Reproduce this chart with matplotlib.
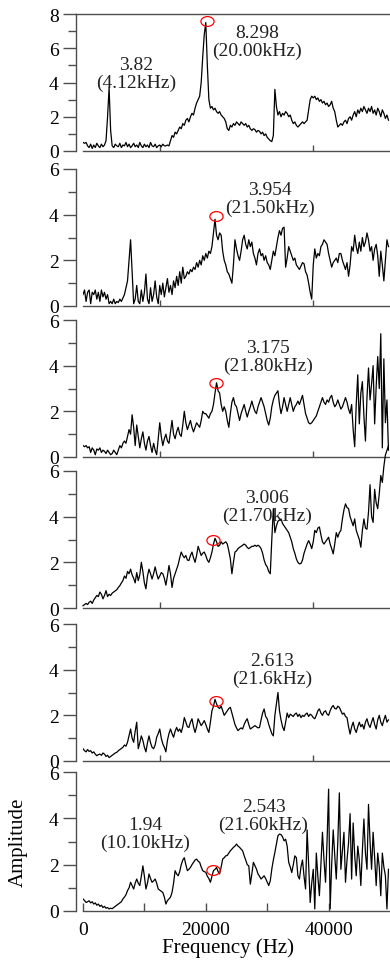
import numpy as np
import matplotlib
matplotlib.use('Agg')
import matplotlib.pyplot as plt
from matplotlib.path import Path
from matplotlib.transforms import Affine2D

plt.rcParams['font.family'] = ['Liberation Serif', 'DejaVu Serif']

# frequency bins (Hz), 250 Hz spacing
freq = np.arange(200) * 250.0

amp1 = [0.5, 0.45, 0.5, 0.3, 0.2, 0.4, 0.15, 0.35, 0.2, 0.45, 0.3, 0.2, 0.4, 0.25, 0.35, 0.6, 2.0, 3.7, 1.2, 0.3,
        0.2, 0.4, 0.3, 0.25, 0.45, 0.2, 0.35, 0.3, 0.5, 0.25, 0.4, 0.2, 0.3, 0.45, 0.25, 0.35, 0.2, 0.5, 0.3, 0.2,
        0.4, 0.25, 0.35, 0.2, 0.5, 0.3, 0.25, 0.4, 0.2, 0.3, 0.35, 0.25, 0.4, 0.3, 0.3, 0.35, 0.3, 0.6, 0.9, 0.8,
        1.1, 1.0, 1.2, 1.4, 1.3, 1.6, 1.5, 1.8, 1.9, 1.7, 2.0, 2.2, 2.1, 2.5, 2.8, 3.0, 3.2, 4.0, 5.5, 6.8,
        7.5, 5.0, 3.0, 2.5, 2.6, 2.4, 2.5, 2.3, 2.2, 2.3, 2.1, 2.0, 1.9, 1.7, 1.3, 1.2, 1.5, 1.4, 1.6, 1.5,
        1.7, 1.6, 1.5, 1.7, 1.6, 1.5, 1.6, 1.4, 1.5, 1.3, 1.2, 1.3, 1.25, 1.1, 1.2, 1.15, 1.0, 1.1, 0.9, 1.0,
        0.8, 0.7, 0.6, 0.55, 0.9, 3.6, 2.6, 2.1, 2.3, 2.0, 2.2, 2.1, 2.3, 2.2, 2.0, 2.1, 1.8, 1.6, 1.7, 1.5,
        1.4, 1.5, 1.6, 1.7, 1.6, 1.7, 1.8, 2.4, 3.0, 3.2, 3.1, 3.2, 3.0, 3.1, 2.9, 3.0, 2.8, 2.9, 2.7, 2.8,
        2.6, 2.7, 2.9, 2.5, 2.3, 1.8, 1.4, 1.5, 1.6, 1.5, 1.7, 1.8, 1.6, 1.9, 2.0, 1.8, 2.1, 2.3, 2.0, 2.4,
        2.2, 2.5, 2.3, 2.6, 2.4, 2.2, 2.5, 2.3, 2.6, 2.2, 2.4, 2.1, 2.5, 2.3, 2.0, 2.4, 2.2, 1.9, 2.1, 1.8]

amp2 = [0.5, 0.7, 0.2, 0.6, 0.7, 0.1, 0.6, 0.5, 0.7, 0.3, 0.6, 0.2, 0.7, 0.4, 0.6, 0.3, 0.5, 0.1, 0.2, 0.1,
        0.3, 0.1, 0.2, 0.15, 0.3, 0.2, 0.35, 0.5, 0.8, 1.1, 2.0, 2.9, 1.5, 0.1, 0.3, 0.9, 0.2, 0.1, 0.7, 0.2,
        0.6, 1.4, 0.3, 0.1, 0.8, 0.2, 0.5, 1.1, 0.4, 0.1, 0.9, 0.5, 1.0, 0.4, 0.8, 1.2, 0.6, 0.9, 0.5, 1.1,
        0.8, 1.3, 0.9, 1.5, 1.0, 1.7, 1.2, 1.3, 1.5, 1.4, 1.6, 1.5, 1.7, 1.6, 1.9, 1.7, 2.0, 1.8, 2.2, 2.0,
        2.3, 2.1, 2.4, 2.3, 2.6, 3.2, 3.8, 3.1, 2.9, 3.2, 3.1, 2.4, 2.0, 1.8, 1.5, 1.4, 1.2, 1.0, 1.8, 2.9,
        2.5, 2.2, 2.0, 2.4, 2.9, 3.1, 2.7, 2.5, 2.9, 2.6, 2.8, 2.3, 2.1, 1.8, 2.3, 2.5, 2.2, 2.3, 2.0, 2.2,
        1.9, 1.8, 1.6, 2.0, 2.4, 2.2, 2.6, 3.0, 3.3, 3.1, 3.4, 3.45, 1.7, 2.1, 2.6, 2.4, 2.2, 2.0, 2.1, 1.8,
        1.7, 1.6, 1.75, 1.9, 1.85, 1.5, 1.35, 1.0, 0.6, 0.3, 1.8, 2.5, 2.1, 2.3, 2.2, 2.6, 2.7, 2.9, 2.8, 2.7,
        2.3, 2.0, 1.7, 1.9, 2.0, 2.1, 1.9, 2.3, 2.3, 2.0, 1.8, 1.6, 1.9, 1.3, 1.8, 2.6, 2.4, 3.1, 2.6, 2.3,
        2.8, 2.4, 3.0, 2.6, 2.8, 3.2, 2.9, 2.4, 2.6, 2.0, 2.5, 2.7, 2.2, 1.3, 2.4, 1.8, 1.1, 2.0, 2.9, 2.6]

amp3 = [0.5, 0.45, 0.5, 0.4, 0.45, 0.2, 0.4, 0.3, 0.1, 0.35, 0.3, 0.4, 0.2, 0.3, 0.25, 0.15, 0.3, 0.2, 0.1, 0.15,
        0.3, 0.2, 0.1, 0.3, 0.5, 0.4, 0.6, 0.7, 0.6, 0.9, 1.2, 1.0, 1.85, 1.3, 0.5, 1.4, 0.9, 0.4, 0.8, 1.1,
        0.6, 0.3, 0.7, 0.9, 0.5, 0.2, 0.6, 0.3, 0.1, 0.8, 1.5, 0.9, 0.5, 0.8, 1.0, 0.7, 0.6, 1.1, 1.6, 1.0,
        0.8, 1.1, 1.3, 1.0, 0.9, 1.4, 2.0, 1.5, 1.2, 1.4, 1.6, 1.3, 1.1, 1.3, 1.5, 1.4, 1.3, 1.6, 2.0, 1.9,
        1.9, 1.8, 1.7, 1.9, 2.0, 2.3, 2.8, 3.25, 2.9, 2.8, 2.3, 2.0, 2.2, 2.0, 1.6, 1.3, 1.9, 2.4, 2.6, 2.3,
        2.2, 1.9, 1.6, 1.9, 2.1, 2.3, 2.0, 1.75, 2.0, 2.2, 2.45, 2.2, 2.0, 1.9, 2.2, 2.4, 2.6, 2.4, 2.2, 1.9,
        1.6, 1.4, 1.7, 2.2, 2.5, 2.7, 2.8, 2.9, 2.3, 1.9, 2.2, 2.6, 2.3, 2.0, 2.3, 2.6, 2.3, 2.0, 2.2, 2.3,
        2.45, 2.3, 2.5, 2.7, 2.3, 1.9, 1.7, 1.5, 1.45, 1.5, 1.6, 1.7, 1.8, 2.0, 2.2, 2.4, 2.6, 2.4, 2.3, 2.5,
        2.4, 2.6, 2.7, 2.4, 2.2, 2.3, 2.5, 2.3, 2.1, 2.2, 2.4, 2.6, 2.4, 2.1, 1.9, 2.3, 1.2, 0.45, 2.3, 3.6,
        1.45, 2.8, 3.3, 1.8, 0.7, 2.6, 3.9, 2.5, 3.2, 4.0, 1.45, 3.1, 4.4, 3.0, 5.4, 0.4, 4.3, 1.5, 2.5, 0.3]

amp4 = [0.1, 0.15, 0.2, 0.15, 0.25, 0.3, 0.2, 0.35, 0.45, 0.55, 0.5, 0.7, 0.6, 0.4, 0.55, 0.76, 0.5, 0.6, 0.55, 0.65,
        0.7, 0.75, 0.8, 0.9, 0.98, 1.1, 1.2, 1.4, 1.3, 1.6, 1.5, 1.7, 1.45, 1.3, 1.1, 1.55, 1.2, 1.45, 2.0, 1.6,
        1.1, 0.84, 1.4, 1.7, 1.5, 1.27, 1.5, 1.8, 1.5, 1.27, 1.4, 1.55, 1.5, 1.3, 1.0, 1.4, 1.86, 1.5, 0.9, 1.3,
        1.5, 1.7, 1.9, 2.2, 2.45, 2.3, 2.2, 2.3, 2.1, 2.08, 2.3, 2.45, 2.2, 2.0, 2.3, 2.7, 2.5, 2.3, 2.4, 2.45,
        2.3, 2.1, 2.0, 2.2, 2.45, 2.8, 3.05, 2.9, 2.7, 2.75, 2.9, 2.8, 2.85, 2.9, 2.8, 2.5, 2.15, 1.5, 2.0, 2.45,
        2.5, 2.6, 2.66, 2.7, 2.75, 2.8, 2.75, 2.65, 2.6, 2.65, 2.7, 2.7, 2.75, 2.7, 2.75, 2.7, 2.6, 2.4, 2.1, 1.9,
        1.8, 1.6, 1.5, 3.0, 4.35, 3.3, 3.6, 3.8, 3.85, 3.9, 3.7, 3.6, 3.5, 3.4, 3.3, 3.1, 2.9, 2.6, 2.4, 2.15,
        2.0, 1.93, 1.95, 2.1, 2.4, 2.6, 2.8, 2.95, 2.8, 2.6, 2.9, 3.4, 3.3, 3.5, 3.55, 3.2, 2.9, 2.8, 2.9, 3.0,
        3.1, 2.8, 2.6, 2.37, 2.8, 3.3, 3.1, 3.3, 3.4, 3.9, 4.3, 4.56, 4.4, 4.35, 4.0, 3.8, 3.6, 3.9, 3.4, 3.2,
        3.0, 2.66, 3.4, 3.9, 3.5, 3.45, 4.2, 5.4, 4.0, 3.75, 5.2, 4.6, 4.35, 5.0, 5.8, 5.5, 6.2, 6.7, 6.9, 7.1]

amp5 = [0.54, 0.45, 0.4, 0.5, 0.42, 0.45, 0.35, 0.4, 0.3, 0.23, 0.28, 0.3, 0.25, 0.35, 0.3, 0.2, 0.25, 0.15, 0.2, 0.25,
        0.3, 0.35, 0.38, 0.45, 0.5, 0.55, 0.6, 0.7, 0.65, 0.82, 1.1, 1.4, 1.0, 0.82, 1.3, 1.7, 0.54, 0.8, 1.1, 0.9,
        0.6, 0.4, 0.8, 1.1, 0.8, 0.6, 0.54, 0.7, 1.04, 1.2, 1.4, 1.0, 0.75, 0.6, 0.4, 0.9, 1.2, 1.4, 1.2, 1.04,
        1.3, 1.47, 1.3, 1.4, 1.25, 1.5, 1.9, 1.7, 1.5, 1.47, 1.7, 1.85, 1.5, 1.25, 1.5, 1.85, 1.7, 1.55, 1.65, 1.77,
        1.6, 1.4, 1.25, 1.7, 2.2, 2.4, 2.7, 2.5, 2.35, 2.3, 2.4, 2.2, 2.0, 2.1, 2.2, 2.3, 2.35, 2.1, 1.85, 1.6,
        1.45, 1.33, 1.4, 1.45, 1.4, 1.6, 1.75, 1.85, 1.6, 1.4, 1.45, 1.5, 1.55, 1.5, 1.45, 1.47, 1.8, 2.1, 2.28, 1.95,
        1.85, 1.6, 1.4, 1.2, 1.1, 2.0, 2.5, 3.0, 2.2, 1.8, 1.5, 1.33, 1.7, 2.1, 1.9, 2.05, 2.0, 1.95, 2.05, 2.1,
        1.95, 2.05, 1.9, 2.0, 1.95, 2.05, 2.1, 1.95, 2.05, 2.0, 1.9, 1.85, 2.0, 2.2, 2.28, 2.1, 2.0, 2.15, 2.2, 2.05,
        2.0, 2.2, 2.35, 2.43, 2.3, 2.28, 2.4, 2.35, 2.2, 2.05, 2.1, 1.95, 1.9, 1.5, 1.18, 1.5, 1.7, 1.4, 1.25, 1.5,
        1.7, 1.5, 1.6, 1.4, 1.7, 1.85, 1.6, 1.47, 1.7, 1.9, 1.6, 1.4, 1.8, 2.0, 1.7, 1.55, 1.8, 2.0, 1.7, 1.8]

amp6 = [0.52, 0.45, 0.37, 0.4, 0.44, 0.35, 0.4, 0.3, 0.35, 0.25, 0.3, 0.2, 0.25, 0.15, 0.2, 0.12, 0.15, 0.09, 0.12, 0.1,
        0.15, 0.2, 0.25, 0.3, 0.35, 0.4, 0.52, 0.6, 0.7, 0.88, 1.0, 1.24, 1.1, 0.95, 1.2, 1.38, 1.2, 1.1, 1.5, 1.95,
        1.5, 0.95, 1.2, 1.6, 1.4, 1.24, 1.3, 1.38, 1.2, 0.95, 0.9, 0.85, 0.8, 0.6, 0.3, 0.45, 0.52, 0.6, 0.8, 1.2,
        1.74, 1.6, 1.52, 1.7, 2.0, 2.2, 2.3, 2.0, 1.74, 1.8, 1.88, 2.0, 2.1, 2.2, 2.24, 2.15, 2.1, 1.9, 1.74, 1.7,
        1.67, 1.5, 1.4, 1.24, 1.5, 1.74, 1.8, 1.88, 1.7, 1.6, 1.9, 2.24, 2.3, 2.38, 2.4, 2.5, 2.6, 2.67, 2.75, 2.8,
        2.89, 2.8, 2.75, 2.67, 2.6, 2.38, 2.2, 2.0, 1.95, 1.16, 1.6, 2.1, 1.95, 1.81, 1.6, 1.5, 1.38, 1.45, 1.52, 1.4,
        1.25, 1.1, 1.3, 1.81, 2.2, 2.53, 2.9, 3.25, 3.32, 3.3, 3.2, 3.03, 3.1, 2.8, 2.1, 1.9, 1.66, 2.0, 2.38, 2.3,
        1.52, 1.38, 1.9, 2.2, 1.5, 0.95, 3.5, 2.0, 0.37, 1.2, 1.8, 0.09, 2.5, 1.5, 0.66, 2.0, 3.4, 2.2, 1.24, 3.03,
        5.26, 0.09, 2.0, 3.5, 2.4, 1.38, 3.0, 5.1, 1.8, 2.6, 3.4, 1.24, 2.2, 2.95, 4.2, 1.38, 3.8, 2.4, 1.52, 2.8,
        2.2, 1.1, 2.6, 3.97, 2.5, 1.8, 4.6, 3.0, 1.8, 3.4, 2.3, 1.1, 2.5, 1.9, 0.66, 2.5, 1.9, 1.52, 0.09, 1.8]

series = [amp1, amp2, amp3, amp4, amp5, amp6]
ymax = [8, 6, 6, 6, 6, 6]

# marked peaks (frequency Hz, amplitude) and their labels
peak_f = [20200, 21600, 21700, 21250, 21700, 21250]
peak_a = [7.6, 3.92, 3.25, 3.0, 2.64, 1.77]
labels = [
    [(28300, 6.4, '8.298\n(20.00kHz)'), (8600, 4.5, '3.82\n(4.12kHz)')],
    [(30500, 4.7, '3.954\n(21.50kHz)')],
    [(30200, 4.4, '3.175\n(21.80kHz)')],
    [(29900, 4.45, '3.006\n(21.70kHz)')],
    [(30800, 4.0, '2.613\n(21.6kHz)')],
    [(29400, 4.14, '2.543\n(21.60kHz)'), (10100, 3.36, '1.94\n(10.10kHz)')],
]

# panel extents in pixels (top, bottom) of the 390x962 figure
rows_px = [(15, 152), (170, 307), (321, 458), (472, 609), (625, 762), (773, 912)]

W, H = 390, 962
fig = plt.figure(figsize=(W / 100, H / 100), dpi=100)

ell = Path.unit_circle().transformed(Affine2D().scale(1.35, 1.0))
axs = []
for i, (top, bot) in enumerate(rows_px):
    ax = fig.add_axes([83 / W, 1 - bot / H, 307 / W, (bot - top) / H])
    axs.append(ax)
    ax.plot(freq, series[i], color='black', lw=0.9, clip_on=(i != 3))
    ax.plot(peak_f[i], peak_a[i], marker=ell, ms=9.5, mfc='none', mec='red',
            mew=0.9, ls='none')
    for (tx, ty, s) in labels[i]:
        ax.text(tx, ty, s, ha='center', va='center', fontsize=14,
                linespacing=1.05, color='#222222')
    ax.set_xlim(0, 50000)
    ax.set_ylim(0, ymax[i])
    ax.set_yticks(np.arange(0, ymax[i] + 1, 2))
    ax.set_yticks(np.arange(1, ymax[i], 2), minor=True)
    ax.tick_params(axis='y', which='major', direction='out', length=9.5,
                   width=1.0, labelsize=14, pad=3, color='0.3')
    ax.tick_params(axis='y', which='minor', direction='out', length=5.8,
                   width=1.0, color='0.3')
    ax.spines['right'].set_visible(False)
    ax.spines['top'].set_visible(i == 0)
    ax.spines['top'].set_bounds(-1150, 50000)
    ax.spines['left'].set_position(('outward', 5))
    for sp in ax.spines.values():
        sp.set_color('0.3')
        sp.set_linewidth(1.0)
    ax.patch.set_alpha(0)
    if i < 5:
        ax.set_xticks([12500, 37500])
        ax.set_xticklabels([])
        ax.tick_params(axis='x', direction='in', length=4, width=1.0, color='0.3')
    else:
        ax.set_xticks([0, 20000, 40000])
        ax.set_xticks([10000, 30000], minor=True)
        ax.tick_params(axis='x', which='both', direction='in', length=6,
                       width=1.0, color='0.3', labelsize=14, pad=7)
        ax.set_xlabel('Frequency (Hz)', fontsize=15)
        ax.xaxis.set_label_coords(0.472, -0.19)
        ax.set_ylabel('Amplitude', fontsize=15)
        ax.yaxis.set_label_coords(-0.18, 0.5)

fig.savefig('out.png', dpi=100)
